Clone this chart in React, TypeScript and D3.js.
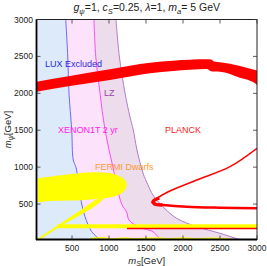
import * as d3 from 'd3'

// m_S [GeV] on x, m_psi [GeV] on y ; boundaries listed as [mS, mPsi]
const xTicks = [500, 1000, 1500, 2000, 2500, 3000]
const yTicks = [500, 1000, 1500, 2000, 2500, 3000]

const luxEdge: [number, number][] = [
  [415, 3000], [442, 2505], [459, 2005], [496, 1503], [517, 1097], [554, 995],
  [608, 646], [631, 501], [676, 329], [766, 126], [878, 20],
]
const xenonEdge: [number, number][] = [
  [797, 3000], [820, 2505], [878, 2005], [946, 1503], [1054, 995], [1171, 501],
  [1239, 393], [1270, 284], [1419, 183], [1594, 126], [1689, 20],
]
const lzEdge: [number, number][] = [
  [1094, 3000], [1139, 2505], [1216, 2005], [1284, 1679], [1328, 1503], [1378, 1232],
  [1459, 921], [1527, 758], [1594, 623], [1729, 464], [1914, 307], [2185, 194],
  [2499, 104], [2700, 40], [2760, 20],
]

// upper relic-density band: mS, lower mPsi, upper mPsi
const planckS = [20, 473, 1013, 1554, 1868, 2320, 2380, 2420, 2500, 2770, 2973, 3000]
const planckLo = [2022, 2099, 2180, 2271, 2302, 2329, 2300, 2295, 2292, 2211, 2135, 2112]
const planckHi = [2157, 2234, 2325, 2414, 2441, 2460, 2458, 2430, 2420, 2370, 2315, 2309]

const planckUpperBranch: [number, number][] = [
  [3000, 1255], [2635, 1006], [2185, 826], [1801, 667], [1644, 578], [1577, 532],
]
const planckLowerBranch: [number, number][] = [
  [1577, 532], [1621, 501], [1733, 487], [2050, 464], [2499, 451], [3000, 443],
]
const planckNose: [number, number][] = [[1680, 585], [1600, 540], [1610, 505], [1720, 488]]
const planckLowLine: [number, number][] = [[1243, 169], [3000, 169]]

const fermiBlob: [number, number][] = [
  [20, 826], [200, 870], [382, 894], [600, 918], [834, 930], [1000, 920], [1104, 894],
  [1202, 839], [1239, 758], [1193, 668], [1058, 600], [850, 572], [720, 558],
  [608, 550], [382, 545], [200, 542], [20, 540],
]
const fermiWedge: [number, number][] = [
  [20, 20], [608, 413], [716, 487], [811, 555], [986, 623], [851, 501],
  [730, 420], [338, 196], [40, 5],
]
const fermiBand: [number, number][] = [
  [300, 226], [3000, 226], [3000, 172], [300, 172],
]
const fermiBottom: [number, number][] = [
  [743, 30], [900, 44], [1050, 28], [1200, 40], [1400, 30], [1600, 42], [1800, 30],
  [2000, 40], [2200, 30], [2400, 38], [2635, 25],
]

const W = 267
const H = 266
const L = 36.5, R = 257, T = 19.5, B = 239.5

export default function App() {
  const x = d3.scaleLinear().domain([20, 3000]).range([L, R])
  const y = d3.scaleLinear().domain([20, 3000]).range([B, T])

  const region = d3.area<[number, number]>()
    .y((d) => y(d[1])).x0(L).x1((d) => x(d[0]))
    .curve(d3.curveCatmullRom.alpha(0.5))
  const edge = d3.line<[number, number]>()
    .x((d) => x(d[0])).y((d) => y(d[1]))
    .curve(d3.curveCatmullRom.alpha(0.5))
  const straight = d3.line<[number, number]>().x((d) => x(d[0])).y((d) => y(d[1]))
  const closed = d3.line<[number, number]>()
    .x((d) => x(d[0])).y((d) => y(d[1]))
    .curve(d3.curveCatmullRomClosed.alpha(0.5))
  const band = d3.area<number>()
    .x((_, i) => x(planckS[i]))
    .y0((_, i) => y(planckLo[i]))
    .y1((_, i) => y(planckHi[i]))
    .curve(d3.curveMonotoneX)

  const font = 'Liberation Sans, Arial, sans-serif'

  return (
    <svg width={W} height={H} style={{ position: 'absolute', left: 0, top: 0 }} fontFamily={font}>
      <rect width={W} height={H} fill="#fff" />
      <defs>
        <clipPath id="plot">
          <rect x={L} y={T} width={R - L} height={B - T} />
        </clipPath>
      </defs>

      <g clipPath="url(#plot)">
        {/* Exclusion regions */}
        <path d={region(lzEdge) ?? ''} fill="#ecdcec" />
        <path d={region(xenonEdge) ?? ''} fill="#fde2fb" />
        <path d={region(luxEdge) ?? ''} fill="#dceafa" />
        <path d={edge(lzEdge) ?? ''} fill="none" stroke="#b07cc6" strokeWidth={1} />
        <path d={edge(xenonEdge) ?? ''} fill="none" stroke="#ff4cf5" strokeWidth={1} />
        <path d={edge(luxEdge) ?? ''} fill="none" stroke="#6a6cf0" strokeWidth={1} />

        {/* FERMI dwarfs */}
        <path d={closed(fermiBlob) ?? ''} fill="#ffff00" />
        <path d={straight(fermiWedge) + 'Z'} fill="#ffff00" />
        <path d={straight(fermiBand) + 'Z'} fill="#ffff00" />
        <path d={edge(fermiBottom) ?? ''} stroke="#ffff00" strokeWidth={1.5} fill="none" />

        {/* PLANCK */}
        <path d={band(planckS) ?? ''} fill="#ff0000" />
        <path d={edge(planckUpperBranch) ?? ''} stroke="#ff0000" strokeWidth={1.5} fill="none" />
        <path d={edge(planckLowerBranch) ?? ''} stroke="#ff0000" strokeWidth={2.4} fill="none" />
        <path d={edge(planckNose) ?? ''} stroke="#ff0000" strokeWidth={3.5} fill="none" />
        <path d={straight(planckLowLine) ?? ''} stroke="#ff0000" strokeWidth={1.6} fill="none" />
      </g>

      {/* labels inside plot */}
      <text x={45} y={67} fontSize={9} fill="#2a2ae0">LUX Excluded</text>
      <text x={104} y={96} fontSize={9} fill="#a040a8">LZ</text>
      <text x={58} y={133} fontSize={9} fill="#ff22f0">XENON1T 2 yr</text>
      <text x={165} y={133} fontSize={9} fill="#ff1a1a">PLANCK</text>
      <text x={95} y={170} fontSize={9} fill="#ff9a30">FERMI Dwarfs</text>

      {/* frame */}
      <rect x={L} y={T} width={R - L} height={B - T} fill="none" stroke="#222" strokeWidth={1} />
      <line x1={L} x2={L} y1={T} y2={B + 0.5} stroke="#000" strokeWidth={1.8} />
      <line x1={L - 0.5} x2={R} y1={B} y2={B} stroke="#000" strokeWidth={1.8} />

      {xTicks.map((t) => (
        <g key={'x' + t}>
          <line x1={x(t)} x2={x(t)} y1={B} y2={B - 4} stroke="#333" strokeWidth={0.8} />
          <line x1={x(t)} x2={x(t)} y1={T} y2={T + 4} stroke="#333" strokeWidth={0.8} />
          <text x={x(t)} y={251} fontSize={8.5} textAnchor="middle" fill="#222">{t}</text>
        </g>
      ))}
      {yTicks.map((t) => (
        <g key={'y' + t}>
          <line x1={L} x2={L + 4} y1={y(t)} y2={y(t)} stroke="#333" strokeWidth={0.8} />
          <line x1={R} x2={R - 4} y1={y(t)} y2={y(t)} stroke="#333" strokeWidth={0.8} />
          <text x={33} y={y(t) + 3} fontSize={8.5} textAnchor="end" fill="#222">{t}</text>
        </g>
      ))}

      {/* title */}
      <text x={(L + R) / 2} y={11} fontSize={10.5} textAnchor="middle" fill="#222">
        <tspan fontStyle="italic">g</tspan>
        <tspan fontStyle="italic" fontSize={7.5} dy={2.5}>ψ</tspan>
        <tspan dy={-2.5}>=1, </tspan>
        <tspan fontStyle="italic">c</tspan>
        <tspan fontStyle="italic" fontSize={7.5} dy={2.5}>S</tspan>
        <tspan dy={-2.5}>=0.25, </tspan>
        <tspan fontStyle="italic">λ</tspan>
        <tspan>=1, </tspan>
        <tspan fontStyle="italic">m</tspan>
        <tspan fontStyle="italic" fontSize={7.5} dy={2.5}>a</tspan>
        <tspan dy={-2.5}>= 5 GeV</tspan>
      </text>

      {/* axis labels */}
      <text x={(L + R) / 2} y={264} fontSize={9.5} textAnchor="middle" fill="#222">
        <tspan fontStyle="italic">m</tspan>
        <tspan fontStyle="italic" fontSize={7} dy={2}>S</tspan>
        <tspan dy={-2}>[GeV]</tspan>
      </text>
      <text transform={`translate(11,${(T + B) / 2}) rotate(-90)`} fontSize={9.5} textAnchor="middle" fill="#222">
        <tspan fontStyle="italic">m</tspan>
        <tspan fontStyle="italic" fontSize={7} dy={2}>ψ</tspan>
        <tspan dy={-2}>[GeV]</tspan>
      </text>
    </svg>
  )
}
